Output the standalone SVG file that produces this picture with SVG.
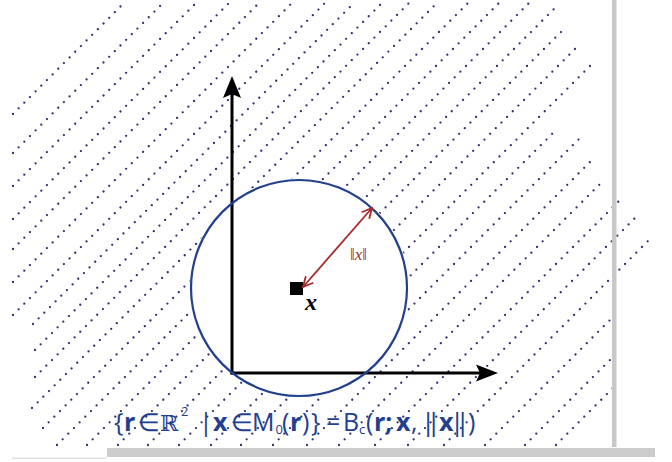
<svg xmlns="http://www.w3.org/2000/svg" width="672" height="462" viewBox="0 0 672 462">
<style>
.hatch{fill:none;stroke:#2d3170;stroke-width:2.3;stroke-linecap:round;stroke-dasharray:0 8}
.axis{stroke:#000;stroke-width:3;fill:none}
.head{fill:#000}
.circ{fill:none;stroke:#22408c;stroke-width:2.2}
.red{stroke:#a52a2a;stroke-width:1.8;fill:none}
.f{font-family:"Open Sans","Noto Sans",sans-serif;font-size:25px;fill:#23408e}
.b{font-weight:bold}
.sub{font-size:13px}
.math{font-family:"DejaVu Serif","Liberation Serif",serif;font-size:22px}
</style>
<defs>
<mask id="hole">
<rect x="0" y="0" width="672" height="462" fill="#fff"/>
<circle cx="299" cy="288" r="110" fill="#000"/>
</mask>
<marker id="vh" viewBox="0 0 12 12" refX="11" refY="6" markerWidth="12" markerHeight="12" markerUnits="userSpaceOnUse" orient="auto-start-reverse">
<path d="M1,1 L11,6 L1,11" fill="none" stroke="#a52a2a" stroke-width="1.8"/>
</marker>
</defs>
<rect width="672" height="462" fill="#fff"/>
<g id="hatch" class="hatch" mask="url(#hole)">
<path d="M13,114 L125,2"/>
<path d="M13,153 L164,2"/>
<path d="M13,186 L197,2"/>
<path d="M13,219 L230,2"/>
<path d="M13,249 L260,2"/>
<path d="M13,282 L293,2"/>
<path d="M13,315 L326,2"/>
<path d="M33,324 L355,2"/>
<path d="M35,350 L383,2"/>
<path d="M35,377 L410,2"/>
<path d="M32,408 L438,2"/>
<path d="M43,428 L469,2"/>
<path d="M57,445 L500,2"/>
<path d="M87,445 L530,2"/>
<path d="M118,445 L557,6"/>
<path d="M148,445 L565,28"/>
<path d="M179,445 L577,47"/>
<path d="M211,445 L592,64"/>
<path d="M241,445 L557,129"/>
<path d="M273,445 L583,135"/>
<path d="M307,445 L595,157"/>
<path d="M339,445 L604,180"/>
<path d="M375,445 L622,198"/>
<path d="M408,445 L637,216"/>
<path d="M444,445 L651,238"/>
<path d="M485,445 L615,315"/>
<path d="M525,445 L613,357"/>
<path d="M556,445 L613,388"/>
</g>
<g id="frame">
<rect x="612" y="0" width="4.5" height="447" fill="#c8c8c8"/>
<rect x="107" y="448" width="548" height="9" fill="#cccccc"/>
<rect x="12" y="457.5" width="95" height="1.5" fill="#e2e2e2"/>
</g>
<g id="axes">
<line class="axis" x1="232" y1="374.5" x2="232" y2="94"/>
<polygon class="head" points="232,76 223,98 232,94 241,98"/>
<line class="axis" x1="230.5" y1="373" x2="480" y2="373"/>
<polygon class="head" points="498,373 476,364.5 480,373 476,381.5"/>
</g>
<g id="ball">
<circle class="circ" cx="299" cy="288" r="108"/>
</g>
<g id="point">
<rect x="290" y="282" width="13" height="13" fill="#000"/>
<text x="305" y="310" font-family="Liberation Serif,serif" font-size="24" font-weight="bold" font-style="italic" fill="#000">x</text>
</g>
<g id="connectors">
<line class="red" x1="303" y1="287" x2="372" y2="208" marker-start="url(#vh)" marker-end="url(#vh)"/>
</g>
<g id="radius-label">
<text x="358.5" y="260" text-anchor="middle" font-family="Liberation Serif,serif" font-size="17" fill="#a52a2a">‖<tspan font-style="italic">x</tspan>‖</text>
</g>
<g id="formula">
<text class="f" y="431">
<tspan x="114">{</tspan><tspan x="124" class="b">r</tspan><tspan x="138">∈</tspan><tspan x="160" class="math">ℝ</tspan><tspan x="181" y="416" font-size="13">2</tspan><tspan x="199" y="431">|</tspan><tspan x="213" class="b">x</tspan><tspan x="231">∈</tspan><tspan x="252">M</tspan><tspan x="275.5" y="434" class="sub">0</tspan><tspan x="282" y="431">(</tspan><tspan x="290" class="b">r</tspan><tspan x="302">)</tspan><tspan x="311">}</tspan><tspan x="326">=</tspan><tspan x="343">B</tspan><tspan x="359" y="434" class="sub">c</tspan><tspan x="366" y="431">(</tspan><tspan x="374" class="b">r;</tspan><tspan x="396" class="b">x</tspan><tspan x="411">,</tspan><tspan x="424">‖</tspan><tspan x="439" class="b">x</tspan><tspan x="453">‖</tspan><tspan x="468">)</tspan>
</text>
</g>
</svg>
